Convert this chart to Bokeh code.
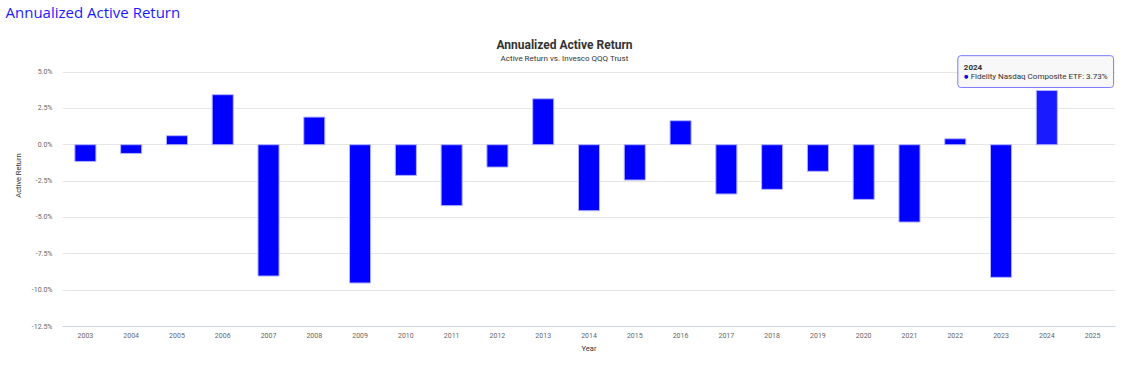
from bokeh.plotting import figure
from bokeh.layouts import column
from bokeh.models import (ColumnDataSource, FactorRange, Range1d, FixedTicker,
                          PrintfTickFormatter, Label)
from bokeh.embed import file_html
from bokeh.resources import INLINE

# ---- data ----
years = [str(y) for y in range(2003, 2026)]
bar_years = years[:-1]  # 2003..2024 (2025 has no value)
active_return = [-1.15, -0.60, 0.62, 3.44, -9.03, 1.90, -9.51, -2.11, -4.19, -1.54,
                 3.16, -4.54, -2.43, 1.65, -3.39, -3.07, -1.83, -3.76, -5.32, 0.41,
                 -9.12, 3.73]
y_ticks = [-12.5, -10.0, -7.5, -5.0, -2.5, 0.0, 2.5, 5.0]
series_name = "Fidelity Nasdaq Composite ETF"
page_title = "Annualized Active Return"
chart_title = "Annualized Active Return"
chart_subtitle = "Active Return vs. Invesco QQQ Trust"
x_title = "Year"
y_title = "Active Return"
hover_year = "2024"

FONT = "Roboto"
BLUE = "#0000ff"
HOVER_BLUE = "#1a1aff"

# ---- layout (pixels) ----
W, H = 1128, 365
HEADER_H = 24
FRAME_LEFT, FRAME_RIGHT = 62, 1115
FRAME_TOP, AXIS_Y = HEADER_H, 326    # frame extends above the top tick
TOP_TICK_Y = 71.5                    # pixel row of the highest tick
px_per_unit = (AXIS_Y - TOP_TICK_Y) / (y_ticks[-1] - y_ticks[0])
y_max = y_ticks[-1] + (TOP_TICK_Y - FRAME_TOP) / px_per_unit

# ---- header figure with the page title ----
hdr = figure(width=W, height=HEADER_H, output_backend="svg", toolbar_location=None,
             x_range=Range1d(0, W), y_range=Range1d(0, HEADER_H),
             x_axis_location=None, y_axis_location=None, title_location=None,
             min_border=0)
hdr.outline_line_color = None
hdr.grid.visible = False
hdr.frame_align = False
hdr.add_layout(Label(x=5, y=HEADER_H - 11, x_units="screen", y_units="screen",
                     text=page_title, text_font="Open Sans", text_font_size="15px",
                     text_color="#1a1aff", text_align="left",
                     text_baseline="middle"))

# ---- main chart ----
colors = [HOVER_BLUE if y == hover_year else BLUE for y in bar_years]
src = ColumnDataSource(dict(year=bar_years, value=active_return, color=colors))

p = figure(width=W, height=H - HEADER_H, output_backend="svg",
           toolbar_location=None, title_location=None,
           x_range=FactorRange(factors=years, range_padding=0),
           y_range=Range1d(y_ticks[0], y_max),
           min_border_left=FRAME_LEFT, min_border_right=W - FRAME_RIGHT,
           min_border_top=0, min_border_bottom=H - AXIS_Y)
p.frame_align = False
p.outline_line_color = None
p.background_fill_color = "white"
p.border_fill_color = "white"

p.vbar(x="year", top="value", bottom=0, width=0.46, source=src,
       fill_color="color", line_color="#b3b3ff", line_width=1)

# axes
p.xgrid.visible = False
p.ygrid.grid_line_color = "#e6e6e6"
p.ygrid.ticker = FixedTicker(ticks=y_ticks)

p.yaxis.ticker = FixedTicker(ticks=y_ticks)
p.yaxis.formatter = PrintfTickFormatter(format="%.1f%%")
p.yaxis.axis_line_color = None
p.yaxis.major_tick_line_color = None
p.yaxis.minor_tick_line_color = None
p.yaxis.major_tick_out = 0
p.yaxis.major_tick_in = 0
p.yaxis.major_label_standoff = 10
p.yaxis.major_label_text_font = FONT
p.yaxis.major_label_text_font_size = "7px"
p.yaxis.major_label_text_color = "#666666"
p.yaxis.axis_label = y_title
p.yaxis.axis_label_text_font = FONT
p.yaxis.axis_label_text_font_size = "7.5px"
p.yaxis.axis_label_text_font_style = "normal"
p.yaxis.axis_label_text_color = "#333333"
p.yaxis.axis_label_standoff = 6

p.xaxis.axis_line_color = "#ccd6eb"
p.xaxis.major_tick_line_color = None
p.xaxis.minor_tick_line_color = None
p.xaxis.major_tick_out = 0
p.xaxis.major_tick_in = 0
p.xaxis.major_label_standoff = 6
p.xaxis.major_label_text_font = FONT
p.xaxis.major_label_text_font_size = "7px"
p.xaxis.major_label_text_color = "#666666"
p.xaxis.axis_label = x_title
p.xaxis.axis_label_text_font = FONT
p.xaxis.axis_label_text_font_size = "7.5px"
p.xaxis.axis_label_text_font_style = "normal"
p.xaxis.axis_label_text_color = "#333333"
p.xaxis.axis_label_standoff = 3

# chart title / subtitle (screen units relative to frame bottom-left)
def screen_label(text, px, py, **kw):
    lab = Label(x=px - FRAME_LEFT, y=AXIS_Y - py, x_units="screen",
                y_units="screen", text=text, **kw)
    p.add_layout(lab)
    return lab

screen_label(chart_title, 564, 44, text_font=FONT, text_font_size="12px",
             text_font_style="bold", text_color="#333333", text_align="center",
             text_baseline="middle")
screen_label(chart_subtitle, 564, 58, text_font=FONT, text_font_size="8px",
             text_color="#333333", text_align="center", text_baseline="middle")

# static tooltip for the hovered point (x in synthetic categorical coordinates)
hx = years.index(hover_year) + 0.5
hv = active_return[bar_years.index(hover_year)]
line2 = f"\u25cf {series_name}: {hv:.2f}%"
PAD = 6
bx, by = -89, 3            # box bottom-left corner relative to bar top centre
tx, ty = bx + PAD, by + PAD
box = Label(x=hx, y=hv, text=f"{hover_year}\n{line2}", text_color="#f7f7f7",
            text_font=FONT, text_font_size="8px", text_align="left",
            text_baseline="bottom", x_offset=bx, y_offset=by,
            background_fill_color="#f7f7f7", background_fill_alpha=0.9,
            border_line_color="#7b7bff", border_line_width=1, padding=PAD,
            border_radius=3, text_line_height=1.2)
p.add_layout(box)
p.add_layout(Label(x=hx, y=hv, text=line2, text_font=FONT,
                   text_font_size="8px", text_color="#333333", text_align="left",
                   text_baseline="bottom", x_offset=tx, y_offset=ty))
p.add_layout(Label(x=hx, y=hv, text="\u25cf", text_font=FONT,
                   text_font_size="8px", text_color=BLUE, text_align="left",
                   text_baseline="bottom", x_offset=tx, y_offset=ty))
p.add_layout(Label(x=hx, y=hv, text=hover_year, text_font=FONT,
                   text_font_size="8px", text_font_style="bold",
                   text_color="#333333", text_align="left", text_baseline="bottom",
                   x_offset=tx, y_offset=ty + 11))

layout = column(hdr, p, spacing=0)
open("out.html", "w").write(file_html(layout, INLINE))
